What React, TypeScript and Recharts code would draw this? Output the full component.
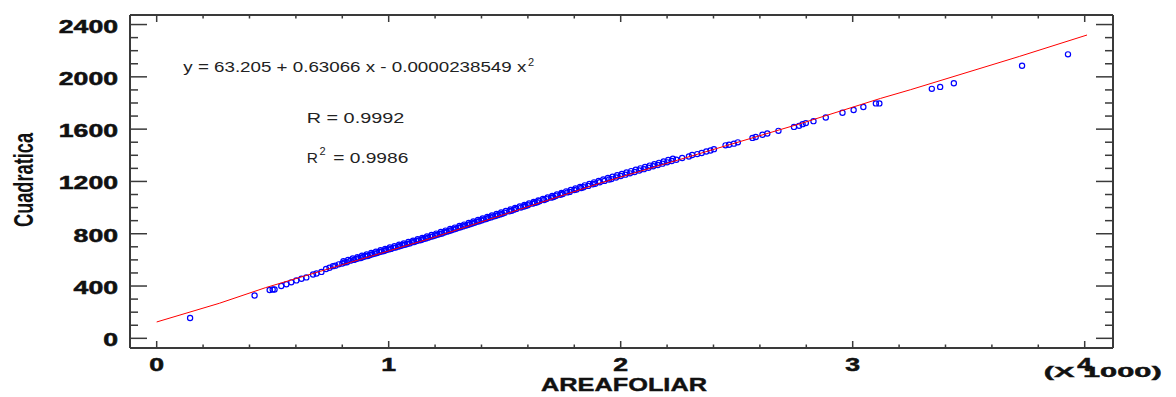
import React from "react";
import { ComposedChart, Scatter, XAxis, YAxis, Customized } from "recharts";

// AREAFOLIAR is stored in thousands, as the axis shows it "(X 1000)"
const xTicks = [0, 0.2, 0.4, 0.6, 0.8, 1, 1.2, 1.4, 1.6, 1.8, 2, 2.2, 2.4, 2.6, 2.8, 3, 3.2, 3.4, 3.6, 3.8, 4];
const yTicks = [
  0, 100, 200, 300, 400, 500, 600, 700, 800, 900, 1000, 1100, 1200, 1300, 1400, 1500, 1600, 1700, 1800, 1900,
  2000, 2100, 2200, 2300, 2400,
];
const xDomain = [-0.115, 4.122];
const yDomain = [-74, 2473];

// observed points [areafoliar (x1000), cuadratica]
const samples: [number, number][] = [
  [0.144, 156], [0.422, 327], [0.487, 370], [0.5, 374], [0.508, 373], [0.537, 400], [0.559, 414],
  [0.58, 428], [0.602, 443], [0.624, 456], [0.645, 466], [0.674, 488], [0.689, 496], [0.71, 508],
  [0.73, 530], [0.745, 540], [0.76, 552], [0.77, 556], [0.785, 566], [0.8, 572], [0.81, 580],
  [0.82, 582], [0.835, 594], [0.85, 600], [0.86, 606], [0.87, 612], [0.88, 614], [0.89, 622],
  [0.9, 628], [0.91, 630], [0.92, 637], [0.93, 644], [0.94, 648], [0.95, 652], [0.96, 660],
  [0.97, 664], [0.98, 668], [0.99, 676], [1.0, 680], [1.01, 684], [1.02, 692], [1.03, 694],
  [1.04, 701], [1.05, 706], [1.06, 712], [1.07, 716], [1.08, 722], [1.09, 726], [1.1, 734],
  [1.11, 737], [1.12, 744], [1.13, 749], [1.14, 752], [1.15, 760], [1.16, 764], [1.17, 770],
  [1.18, 776], [1.19, 780], [1.2, 787], [1.21, 792], [1.22, 798], [1.23, 802], [1.24, 810],
  [1.25, 816], [1.26, 820], [1.27, 827], [1.28, 833], [1.29, 838], [1.3, 845], [1.31, 850],
  [1.32, 856], [1.33, 862], [1.34, 866], [1.35, 873], [1.36, 878], [1.37, 884], [1.38, 891],
  [1.39, 896], [1.4, 902], [1.41, 908], [1.42, 912], [1.43, 920], [1.44, 925], [1.45, 931],
  [1.46, 936], [1.47, 942], [1.48, 948], [1.49, 952], [1.5, 960], [1.52, 972], [1.53, 976],
  [1.54, 984], [1.55, 990], [1.57, 1000], [1.58, 1007], [1.59, 1012], [1.6, 1018], [1.62, 1030],
  [1.63, 1036], [1.64, 1040], [1.65, 1048], [1.67, 1058], [1.68, 1065], [1.7, 1076], [1.71, 1080],
  [1.72, 1088], [1.74, 1098], [1.75, 1104], [1.77, 1116], [1.78, 1120], [1.8, 1134], [1.81, 1138],
  [1.83, 1150], [1.84, 1155], [1.86, 1166], [1.88, 1178], [1.89, 1182], [1.91, 1194], [1.93, 1204],
  [1.95, 1215], [1.96, 1218], [1.98, 1230], [2.0, 1242], [2.02, 1252], [2.04, 1262], [2.06, 1272],
  [2.08, 1284], [2.1, 1294], [2.12, 1305], [2.14, 1316], [2.16, 1326], [2.18, 1336], [2.2, 1346],
  [2.22, 1356], [2.24, 1366], [2.265, 1379], [2.294, 1391], [2.308, 1402], [2.33, 1409],
  [2.349, 1417], [2.369, 1429], [2.387, 1437], [2.402, 1447], [2.452, 1476], [2.467, 1481],
  [2.488, 1489], [2.505, 1499], [2.568, 1533], [2.582, 1540], [2.611, 1557], [2.632, 1567],
  [2.68, 1587], [2.747, 1617], [2.769, 1625], [2.784, 1638], [2.798, 1646], [2.831, 1661],
  [2.884, 1689], [2.956, 1725], [3.004, 1746], [3.046, 1769], [3.1, 1797], [3.115, 1797],
  [3.341, 1908], [3.377, 1923], [3.436, 1951], [3.73, 2085], [3.928, 2172],
];

// upper edge of the dense band of points
const samplesUpper: [number, number][] = [
  [0.805, 590], [0.825, 600], [0.845, 611], [0.865, 621], [0.885, 632], [0.905, 642], [0.925, 653],
  [0.945, 663], [0.965, 674], [0.985, 684], [1.005, 695], [1.025, 705], [1.045, 716], [1.065, 726],
  [1.085, 737], [1.105, 747], [1.125, 758], [1.145, 768], [1.165, 779], [1.185, 790], [1.205, 801],
  [1.225, 813], [1.245, 824], [1.265, 836], [1.285, 847], [1.305, 859], [1.325, 870], [1.345, 882],
  [1.365, 893], [1.385, 905], [1.405, 916], [1.425, 928], [1.445, 939], [1.465, 951], [1.485, 962],
  [1.505, 974], [1.525, 985], [1.545, 997], [1.565, 1008], [1.585, 1020], [1.605, 1031], [1.625, 1043],
  [1.645, 1054], [1.665, 1066], [1.685, 1077], [1.705, 1089], [1.725, 1100], [1.745, 1112],
  [1.765, 1124], [1.785, 1135], [1.805, 1147], [1.825, 1158], [1.845, 1170], [1.865, 1181],
  [1.885, 1193], [1.905, 1204], [1.925, 1215], [1.945, 1226], [1.965, 1236], [1.985, 1247],
  [2.005, 1257], [2.025, 1268], [2.045, 1279], [2.065, 1289], [2.085, 1300], [2.105, 1310],
  [2.125, 1321], [2.145, 1332], [2.165, 1342], [2.185, 1353], [2.205, 1364], [2.225, 1374],
];

// fitted curve [areafoliar (x1000), cuadratica]
const fitCurve: [number, number][] = [
  [0, 125], [0.27, 268], [0.47, 388], [1.18, 764], [1.91, 1186], [2.78, 1645],
  [3.12, 1835], [3.25, 1902], [3.72, 2157], [4.01, 2320],
];

const pointData = [...samples, ...samplesUpper].map(([x, y]) => ({ x, y }));
const fitData = fitCurve.map(([x, y]) => ({ x, y }));

const AXIS = "#3a3a3a";
const FONT = "'Liberation Sans', Arial, sans-serif";

const LeftTick = (props: any) => {
  const { x, y, payload } = props;
  const v = payload.value;
  const major = v % 400 === 0;
  return (
    <g>
      <line x1={x} y1={y} x2={x + (major ? 17 : 8)} y2={y} stroke={AXIS} strokeWidth={1.5} />
      {major && (
        <text x={x - 12} y={y + 8} textAnchor="end" fontFamily={FONT} fontWeight="bold" fontSize={17.5}
          fill="#111" stroke="#111" strokeWidth={0.5} textLength={String(v).length * 14.8}
          lengthAdjust="spacingAndGlyphs">
          {v}
        </text>
      )}
    </g>
  );
};

const RightTick = (props: any) => {
  const { x, y, payload } = props;
  const major = payload.value % 400 === 0;
  return <line x1={x} y1={y} x2={x - (major ? 17 : 8)} y2={y} stroke={AXIS} strokeWidth={1.5} />;
};

const BottomTick = (props: any) => {
  const { x, y, payload } = props;
  const v = payload.value;
  const major = Number.isInteger(v);
  return (
    <g>
      <line x1={x} y1={y} x2={x} y2={y - (major ? 7 : 3.5)} stroke={AXIS} strokeWidth={1.5} />
      {major && (
        <text x={x} y={y + 23} textAnchor="middle" fontFamily={FONT} fontWeight="bold" fontSize={17.5}
          fill="#111" stroke="#111" strokeWidth={0.5} textLength={14.8} lengthAdjust="spacingAndGlyphs">
          {v}
        </text>
      )}
      {v === 4 && (
        <text x={x - 41} y={y + 29} fontFamily={FONT} fontWeight="bold" fontSize={14}
          fill="#111" stroke="#111" strokeWidth={0.4} textLength={118} lengthAdjust="spacingAndGlyphs">
          (X 1000)
        </text>
      )}
    </g>
  );
};

const TopTick = (props: any) => {
  const { x, y, payload } = props;
  const major = Number.isInteger(payload.value);
  return <line x1={x} y1={y} x2={x} y2={y + (major ? 7 : 3.5)} stroke={AXIS} strokeWidth={1.5} />;
};

const Annotations = () => (
  <g fontFamily={FONT} fill="#222">
    <text x={175.3} y={64.3} fontSize={15.5} textLength={343} lengthAdjust="spacingAndGlyphs">
      y = 63.205 + 0.63066 x - 0.0000238549 x
    </text>
    <text x={520} y={58} fontSize={11}>2</text>
    <text x={298.7} y={115.3} fontSize={15.5} textLength={97.6} lengthAdjust="spacingAndGlyphs">
      R = 0.9992
    </text>
    <text x={298.7} y={155.3} fontSize={15.5}>R</text>
    <text x={311.5} y={147} fontSize={11}>2</text>
    <text x={325.3} y={155.3} fontSize={15.5} textLength={75} lengthAdjust="spacingAndGlyphs">
      = 0.9986
    </text>
    <text x={616} y={383} textAnchor="middle" fontWeight="bold" fontSize={19} fill="#111" stroke="#111"
      strokeWidth={0.4} textLength={166} lengthAdjust="spacingAndGlyphs">
      AREAFOLIAR
    </text>
    <text x={25.3} y={172} transform="rotate(-90 25.3 172)" textAnchor="middle" fontWeight="bold"
      fontSize={27} fill="#111" textLength={94} lengthAdjust="spacingAndGlyphs">
      Cuadratica
    </text>
  </g>
);

const Ring = (p: any) => (
  <circle cx={p.cx} cy={p.cy} r={2.6} fill="none" stroke="#0000ff" strokeWidth={1.2} />
);

const NoMark = () => <g />;

export default function App() {
  return (
    <div style={{ width: 1160, height: 389, background: "#fff" }}>
      <ComposedChart width={1160} height={389} margin={{ top: 0, right: 0, bottom: 0, left: 0 }}>
        <XAxis xAxisId="bottom" type="number" dataKey="x" domain={xDomain} allowDataOverflow ticks={xTicks}
          interval={0} height={49} tickSize={0} tickMargin={0} tickLine={false}
          axisLine={{ stroke: AXIS, strokeWidth: 2 }} tick={<BottomTick />} />
        <XAxis xAxisId="top" orientation="top" type="number" dataKey="x" domain={xDomain} allowDataOverflow
          ticks={xTicks} interval={0} height={7} tickSize={0} tickMargin={0} tickLine={false}
          axisLine={{ stroke: AXIS, strokeWidth: 2 }} tick={<TopTick />} />
        <YAxis yAxisId="left" type="number" dataKey="y" domain={yDomain} allowDataOverflow ticks={yTicks}
          interval={0} width={122} tickSize={0} tickMargin={0} tickLine={false}
          axisLine={{ stroke: AXIS, strokeWidth: 2 }} tick={<LeftTick />} />
        <YAxis yAxisId="right" orientation="right" type="number" dataKey="y" domain={yDomain} allowDataOverflow
          ticks={yTicks} interval={0} width={55} tickSize={0} tickMargin={0} tickLine={false}
          axisLine={{ stroke: AXIS, strokeWidth: 2 }} tick={<RightTick />} />
        <Scatter xAxisId="bottom" yAxisId="left" data={pointData} dataKey="y" shape={<Ring />}
          isAnimationActive={false} />
        <Scatter xAxisId="top" yAxisId="right" data={fitData} dataKey="y" shape={<NoMark />}
          line={{ stroke: "#ff0000", strokeWidth: 1 }} lineType="joint" isAnimationActive={false} />
        <Customized component={Annotations} />
      </ComposedChart>
    </div>
  );
}
